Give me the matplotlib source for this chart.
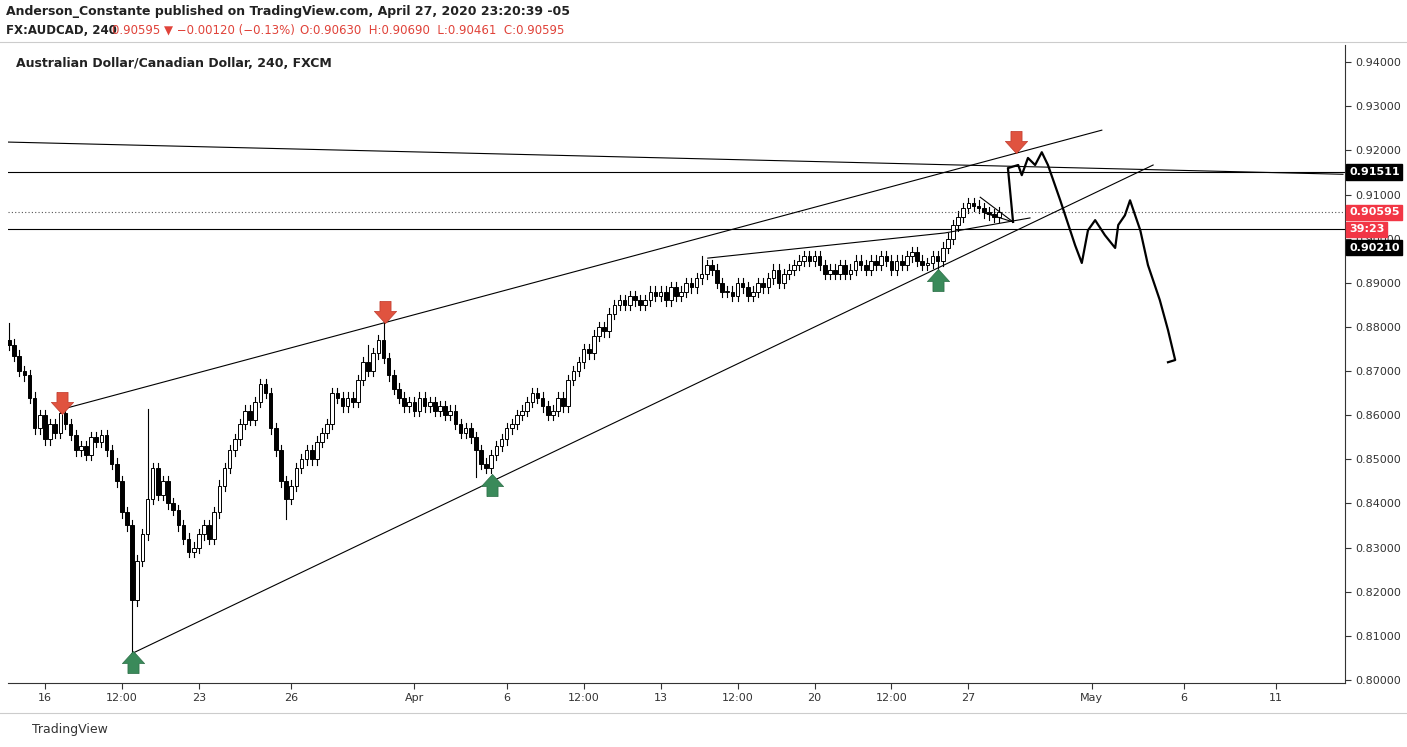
import numpy as np
import matplotlib.pyplot as plt
from matplotlib.path import Path
from matplotlib.patches import Rectangle

# 4h closes, bar index -7 .. 186 (0 = Mar 16 00:00)
closes = [
    .8760, .8735, .8700, .8690, .8640, .8570, .8600, .8545, .8580, .8560,
    .8605, .8580, .8555, .8520, .8530, .8510, .8550, .8540, .8555, .8520,
    .8490, .8450, .8380, .8350, .8180, .8270, .8330, .8410, .8480, .8420,
    .8450, .8400, .8385, .8350, .8320, .8290, .8300, .8330, .8350, .8320,
    .8380, .8440, .8480, .8520, .8545, .8580, .8610, .8590, .8630, .8670,
    .8650, .8570, .8520, .8450, .8410, .8440, .8480, .8500, .8520, .8500,
    .8540, .8560, .8580, .8650, .8640, .8620, .8640, .8630, .8680, .8720,
    .8700, .8740, .8770, .8730, .8690, .8660, .8640, .8620, .8630, .8610,
    .8640, .8620, .8630, .8610, .8620, .8600, .8610, .8580, .8560, .8570,
    .8550, .8520, .8490, .8480, .8510, .8530, .8545, .8570, .8580, .8600,
    .8610, .8630, .8650, .8640, .8620, .8600, .8610, .8640, .8620, .8680,
    .8700, .8720, .8750, .8740, .8780, .8800, .8790, .8830, .8850, .8860,
    .8850, .8870, .8860, .8850, .8860, .8880, .8870, .8880, .8860, .8890,
    .8870, .8880, .8900, .8890, .8910, .8920, .8940, .8930, .8900, .8880,
    .8880, .8870, .8900, .8890, .8870, .8880, .8900, .8890, .8910, .8930,
    .8900, .8920, .8930, .8940, .8950, .8960, .8950, .8960, .8940, .8920,
    .8930, .8920, .8940, .8920, .8930, .8950, .8940, .8930, .8950, .8940,
    .8960, .8950, .8930, .8950, .8940, .8960, .8970, .8950, .8940, .8945,
    .8960, .8950, .8980, .9000, .9030, .9050, .9070, .9080, .9075, .9070,
    .9060, .9055, .9050, .9060,
]
first_bar = -7
wick = 0.0012
spike_high = {-7: .8810, 3: .8610, 20: .8615, 63: .8760, 66: .8810, 128: .8960}
spike_low = {17: .8060, 47: .8365, 84: .8460, 174: .8930}

tick_pos = [0, 15, 30, 48, 72, 90, 105, 120, 135, 150, 165, 180, 204, 222, 240]
tick_lbl = ["16", "12:00", "23", "26", "Apr", "6", "12:00", "13", "12:00", "20",
            "12:00", "27", "May", "6", "11"]
price_ticks = [0.80, 0.81, 0.82, 0.83, 0.84, 0.85, 0.86, 0.87, 0.88, 0.89,
               0.90, 0.91, 0.92, 0.93, 0.94]

upper_wedge = [(2.9, .8612), (206, .9246)]
lower_wedge = [(17, .8060), (216, .9167)]
long_line = [(-7.2, .9219), (253, .9146)]
flag_line = [(129.2, .8956), (175.4, .9013), (192, .9047)]
tri_a = [(182.3, .9094), (188.7, .9038)]
tri_b = [(183.2, .9058), (188.7, .9038)]
sketch = [(188.7, .9038), (187.7, .9160), (189.7, .9167), (190.4, .9144), (191.6, .9183),
          (193.0, .9167), (194.3, .9196), (195.5, .9167), (197.9, .9087), (200.8, .8985),
          (202.1, .8945), (203.3, .9019), (204.7, .9042), (206.6, .9008), (208.6, .8979),
          (209.2, .9031), (210.5, .9053), (211.5, .9087), (212.5, .9053), (213.5, .9019),
          (215.0, .8940), (217.3, .8861), (218.9, .8793), (220.3, .8725), (218.9, .8720)]
red_arrows = [(3.3, .8627), (66.3, .8834), (189.3, .9219)]
green_arrows = [(17.2, .8041), (87.1, .8442), (174.1, .8906)]
levels = {"hi": 0.91511, "last": 0.90595, "lo": 0.90210}

W, H = 1407, 747
fig = plt.figure(figsize=(W / 100, H / 100), dpi=100)
ax = fig.add_axes([8 / W, 1 - 683 / H, (1345 - 8) / W, (683 - 45) / H])

opens = [closes[0] + 0.0010] + closes[:-1]
for k, (o, c) in enumerate(zip(opens, closes)):
    i = first_bar + k
    hi = spike_high.get(i, max(o, c) + wick)
    lo = spike_low.get(i, min(o, c) - wick)
    ax.plot([i, i], [lo, hi], color="black", lw=0.8, zorder=2)
    face = "white" if c >= o else "black"
    ax.add_patch(Rectangle((i - 0.35, min(o, c)), 0.7, max(abs(c - o), 0.0002),
                           facecolor=face, edgecolor="black", lw=0.7, zorder=3))

for line in [upper_wedge, lower_wedge, long_line, flag_line, tri_a, tri_b]:
    xs, ys = zip(*line)
    ax.plot(xs, ys, color="black", lw=0.8, zorder=4)
xs, ys = zip(*sketch)
ax.plot(xs, ys, color="black", lw=1.6, zorder=4, solid_joinstyle="round")

ax.axhline(levels["hi"], color="black", lw=0.8)
ax.axhline(levels["lo"], color="black", lw=0.8)
ax.axhline(levels["last"], color="#555555", lw=0.8, ls=(0, (1, 2)))

arrow = Path([(-0.5, 1), (0.5, 1), (0.5, 0.1), (1, 0.1), (0, -1), (-1, 0.1), (-0.5, 0.1), (-0.5, 1)])
arrow_up = Path(arrow.vertices * [1, -1])
for x, y in red_arrows:
    ax.plot(x, y, marker=arrow, ms=16, color="#e0533f", mec="#c0392b", mew=0.5, zorder=5)
for x, y in green_arrows:
    ax.plot(x, y, marker=arrow_up, ms=16, color="#3a8a5a", mec="#2c6e47", mew=0.5, zorder=5)

ax.set_xlim(-7.2, 253.4)
ax.set_ylim(0.7993, 0.9439)
ax.set_xticks(tick_pos, tick_lbl)
ax.yaxis.tick_right()
ax.set_yticks(price_ticks, [f"{p:.5f}" for p in price_ticks])
ax.tick_params(labelsize=8, colors="#333333", length=4)
for s in ["top", "left"]:
    ax.spines[s].set_visible(False)
for s in ["right", "bottom"]:
    ax.spines[s].set_color("#333333")

def price_box(y, text, bg):
    ax.text(1.003, y, text, transform=ax.get_yaxis_transform(), color="white", fontsize=8,
            fontweight="bold", va="center", ha="left",
            bbox=dict(boxstyle="square,pad=0.25", fc=bg, ec=bg))

price_box(levels["hi"], "0.91511", "black")
price_box(levels["last"], "0.90595", "#f23645")
price_box(levels["lo"], "39:23", "#f23645")
price_box(levels["lo"] - 0.0041, "0.90210", "black")

ax.text(0.006, 0.965, "Australian Dollar/Canadian Dollar, 240, FXCM", transform=ax.transAxes,
        fontsize=9, fontweight="bold", color="#222222")
fig.text(6 / W, 1 - 12 / H, "Anderson_Constante published on TradingView.com, April 27, 2020 23:20:39 -05",
         fontsize=9, fontweight="bold", color="#222222", va="center")
fig.text(6 / W, 1 - 30 / H, "FX:AUDCAD, 240", fontsize=8.5, fontweight="bold", color="#222222", va="center")
fig.text(112 / W, 1 - 30 / H, "0.90595 ▼ −0.00120 (−0.13%)", fontsize=8.5, color="#e0433a", va="center")
fig.text(300 / W, 1 - 30 / H, "O:0.90630  H:0.90690  L:0.90461  C:0.90595",
         fontsize=8.5, color="#e0433a", va="center")
fig.text(32 / W, 1 - 729 / H, "TradingView", fontsize=9, color="#333333", va="center")
fig.add_artist(plt.Line2D([0, 1], [1 - 42 / H, 1 - 42 / H], color="#cccccc", lw=0.8))
fig.add_artist(plt.Line2D([0, 1], [1 - 713 / H, 1 - 713 / H], color="#cccccc", lw=0.8))

fig.savefig("out.png", dpi=100)
